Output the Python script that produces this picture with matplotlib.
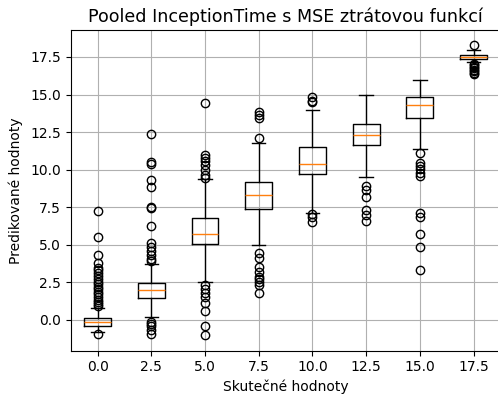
import matplotlib.pyplot as plt

# skutečné hodnoty (pozice boxů)
positions = [0.0, 2.5, 5.0, 7.5, 10.0, 12.5, 15.0, 17.5]

# statistiky boxů
q1 = [-0.38, 1.44, 5.06, 7.39, 9.71, 11.64, 13.42, 17.34]
med = [-0.15, 2.02, 5.72, 8.32, 10.40, 12.29, 14.33, 17.48]
q3 = [0.11, 2.44, 6.81, 9.16, 11.49, 13.06, 14.86, 17.61]
whislo = [-0.84, 0.16, 2.51, 4.99, 7.10, 9.54, 11.38, 17.14]
whishi = [0.82, 3.73, 9.36, 11.80, 13.95, 14.97, 15.97, 17.96]

# odlehlé hodnoty
fliers = [
    [7.27, 5.50, 4.32, 3.77, 3.44, 3.30, 3.10, 2.95, 2.75, 2.55, 2.40, 2.20,
     2.05, 1.85, 1.70, 1.50, 1.35, 1.20, 1.05, 0.95, -0.93],
    [12.35, 10.50, 10.40, 9.32, 8.83, 7.54, 7.43, 6.25, 5.15, 4.88, 4.61,
     4.32, 4.06, 3.90, -0.11, -0.25, -0.38, -0.66, -0.93],
    [14.42, 11.00, 10.80, 10.55, 10.31, 9.98, 9.65, 9.43, 2.33, 2.06, 1.82,
     1.51, 1.11, 0.62, -0.38, -1.04],
    [13.85, 13.64, 13.42, 12.09, 4.43, 4.10, 3.55, 3.21, 2.88, 2.70, 2.55,
     2.33, 1.78],
    [14.82, 14.59, 14.50, 7.03, 6.87, 6.54],
    [8.92, 8.65, 8.20, 7.32, 6.99, 6.59],
    [11.09, 10.47, 10.25, 10.03, 9.76, 9.60, 7.14, 6.87, 5.72, 4.88, 3.33],
    [18.32, 17.05, 16.95, 16.85, 16.75, 16.65, 16.55, 16.45, 16.35],
]

stats = []
for i in range(len(positions)):
    stats.append({'med': med[i], 'q1': q1[i], 'q3': q3[i],
                  'whislo': whislo[i], 'whishi': whishi[i],
                  'fliers': fliers[i]})

fig = plt.figure(figsize=(4.98, 3.94), dpi=100)
ax = fig.add_subplot(1, 1, 1)
fig.subplots_adjust(left=0.142, right=1.005, bottom=0.110, top=0.924)

ax.bxp(stats, positions=positions, widths=1.25, manage_ticks=False)

ax.set_xticks(positions)
ax.set_xticklabels(['%.1f' % p for p in positions])
ax.set_xlim(-1.25, 18.75)
ax.set_ylim(-2.05, 19.3)
ax.grid(True)

ax.set_title('Pooled InceptionTime s MSE ztrátovou funkcí', fontsize=12.6)
ax.set_xlabel('Skutečné hodnoty')
ax.set_ylabel('Predikované hodnoty', labelpad=5)

plt.savefig('out.png', dpi=100)
